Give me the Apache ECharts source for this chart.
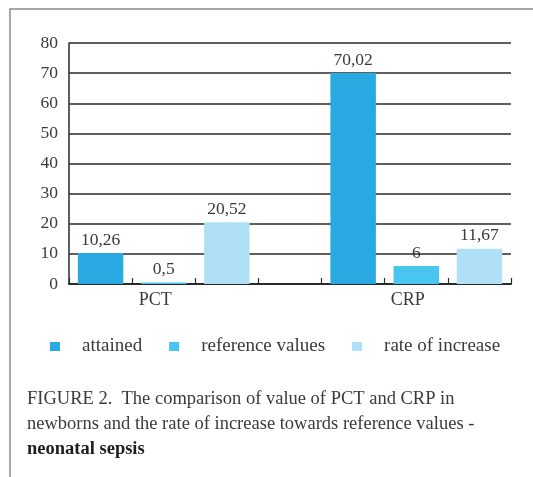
<!DOCTYPE html>
<html>
<head>
<meta charset="utf-8">
<script src="https://cdn.jsdelivr.net/npm/echarts@6/dist/echarts.min.js"></script>
<style>
  html, body { margin: 0; padding: 0; background: #fff; }
  #chart { width: 533px; height: 477px; }
</style>
</head>
<body>
<div id="chart"></div>
<script>
// slots along the x axis: 3 bars for PCT, 1 empty slot, 3 bars for CRP
var slots = ['', 'PCT', '', '', '', 'CRP', ''];
var seriesNames = ['attained', 'reference values', 'rate of increase'];
var attained = [10.26, null, null, null, 70.02, null, null];
var referenceValues = [null, 0.5, null, null, null, 6, null];
var rateOfIncrease = [null, null, 20.52, null, null, null, 11.67];
var colors = ['#29a9e1', '#48c6f0', '#afe0f6'];
var yTicks = { min: 0, max: 80, interval: 10 };

var serif = 'Liberation Serif';
var txt = '#3a3a3a';

function fmt(p) {
  return String(p.value).replace('.', ',');
}

function makeSeries(name, data, color) {
  return {
    name: name,
    type: 'bar',
    stack: 'one',
    barWidth: '72%',
    data: data,
    itemStyle: { color: color },
    label: {
      show: true,
      position: 'top',
      distance: 4,
      formatter: fmt,
      fontFamily: serif,
      fontSize: 17.5,
      color: txt
    }
  };
}

var chart = echarts.init(document.getElementById('chart'));
chart.setOption({
  animation: false,
  title: {
    left: 27,
    top: 387,
    padding: 0,
    text: '{n|FIGURE 2.  The comparison of value of PCT and CRP in}\n' +
          '{n|newborns and the rate of increase towards reference values -}\n' +
          '{b|neonatal sepsis}',
    textStyle: {
      fontWeight: 'normal',
      rich: {
        n: { fontFamily: serif, fontSize: 18.5, color: txt, fontWeight: 'normal', lineHeight: 25 },
        b: { fontFamily: serif, fontSize: 18.5, color: '#1e1e1e', fontWeight: 'bold', lineHeight: 25 }
      }
    }
  },
  legend: {
    left: 50,
    top: 337,
    padding: 0,
    icon: 'rect',
    itemWidth: 10,
    itemHeight: 9,
    itemGap: 27,
    data: seriesNames,
    textStyle: {
      fontFamily: serif,
      fontSize: 19,
      color: txt,
      padding: [0, 0, 0, 17]
    }
  },
  graphic: [{
    type: 'polyline',
    shape: { points: [[10, 477], [10, 9], [533, 9]] },
    style: { stroke: '#8a8a8a', lineWidth: 1.5, fill: null }
  }],
  grid: { left: 69, right: 22, top: 43, bottom: 193 },
  xAxis: {
    type: 'category',
    data: slots,
    axisLine: { lineStyle: { color: '#2a2a2a', width: 2 } },
    axisTick: { show: true, inside: true, length: 6, lineStyle: { color: '#2a2a2a', width: 1.2 } },
    axisLabel: {
      interval: 0,
      margin: 7,
      formatter: function (v) { return v ? '{a|' + v + '}' : ''; },
      rich: { a: { fontFamily: serif, fontSize: 18, color: txt, padding: [0, 17, 0, 0] } }
    }
  },
  yAxis: {
    type: 'value',
    min: yTicks.min,
    max: yTicks.max,
    interval: yTicks.interval,
    axisLine: { show: true, lineStyle: { color: '#2a2a2a', width: 1.5 } },
    axisTick: { show: false },
    axisLabel: { margin: 11, fontFamily: serif, fontSize: 17.5, color: txt },
    splitLine: { lineStyle: { color: '#2a2a2a', width: 1.5 } }
  },
  series: [
    makeSeries(seriesNames[0], attained, colors[0]),
    makeSeries(seriesNames[1], referenceValues, colors[1]),
    makeSeries(seriesNames[2], rateOfIncrease, colors[2])
  ]
});
</script>
</body>
</html>
